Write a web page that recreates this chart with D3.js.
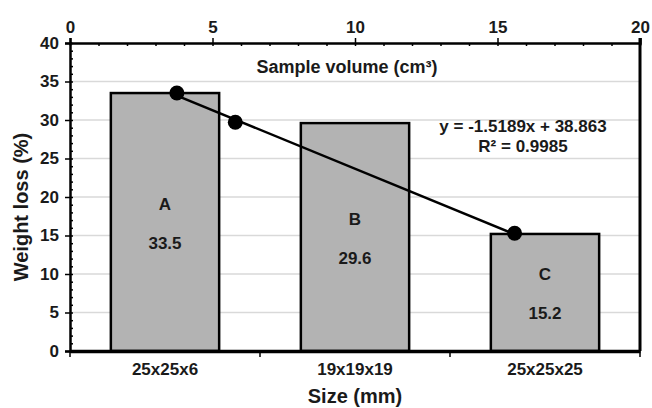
<!DOCTYPE html>
<html>
<head>
<meta charset="utf-8">
<script src="https://d3js.org/d3.v7.min.js"></script>
<style>
  body { margin: 0; background: #fff; }
  text { font-family: "Liberation Sans", Arial, sans-serif; font-weight: bold; fill: #1a1a1a; }
</style>
</head>
<body>
<script>
// data
const sizes = ["25x25x6", "19x19x19", "25x25x25"];
const letters = ["A", "B", "C"];
const weightLoss = [33.5, 29.6, 15.2];

// sample volume points (top axis, cm3) and weight loss
const volume = [3.75, 5.8, 15.6];
const volumeLoss = [33.5, 29.7, 15.3];

// trendline y = a*x + b
const slope = -1.5189, intercept = 38.863, r2 = 0.9985;

const yTicks = [0, 5, 10, 15, 20, 25, 30, 35, 40];
const topTicks = [0, 5, 10, 15, 20];

const width = 652, height = 408;
const margin = {top: 43, right: 12, bottom: 57, left: 70};
const x0 = margin.left, x1 = width - margin.right;
const y0 = height - margin.bottom, y1 = margin.top;

const svg = d3.select("body").append("svg")
  .attr("width", width).attr("height", height);

const y = d3.scaleLinear().domain([0, 40]).range([y0, y1]);
const xTop = d3.scaleLinear().domain([0, 20]).range([x0, x1]);
const xBand = d3.scaleBand().domain(sizes).range([x0, x1])
  .paddingInner(0.43).paddingOuter(0.215);

// gridlines
svg.append("g").selectAll("line")
  .data(yTicks.filter(d => d > 0 && d < 40))
  .enter().append("line")
  .attr("x1", x0).attr("x2", x1)
  .attr("y1", d => y(d)).attr("y2", d => y(d))
  .attr("stroke", "#d9d9d9").attr("stroke-width", 1.5);

// bars
svg.append("g").selectAll("rect")
  .data(sizes)
  .enter().append("rect")
  .attr("x", d => xBand(d))
  .attr("y", (d, i) => y(weightLoss[i]))
  .attr("width", xBand.bandwidth())
  .attr("height", (d, i) => y0 - y(weightLoss[i]))
  .attr("fill", "#b3b3b3")
  .attr("stroke", "#000").attr("stroke-width", 2.5);

// left axis, major out, minor in
const leftAxis = svg.append("g").attr("transform", `translate(${x0},0)`)
  .call(d3.axisLeft(y).tickValues(yTicks).tickSize(5).tickPadding(6));
leftAxis.select(".domain").attr("stroke-width", 2.5);
leftAxis.selectAll(".tick line").attr("stroke-width", 1.5);
leftAxis.selectAll("text").style("font-size", "17px");

const leftMinor = svg.append("g").attr("transform", `translate(${x0},0)`)
  .call(d3.axisRight(y).tickValues(d3.range(0, 41, 1)).tickSize(3).tickFormat(""));
leftMinor.select(".domain").remove();
leftMinor.selectAll(".tick line").attr("stroke-width", 1.5);

// top axis
const topAxis = svg.append("g").attr("transform", `translate(0,${y1})`)
  .call(d3.axisTop(xTop).tickValues(topTicks).tickSize(5).tickPadding(5));
topAxis.select(".domain").attr("stroke-width", 2.5);
topAxis.selectAll(".tick line").attr("stroke-width", 1.5);
topAxis.selectAll("text").style("font-size", "17px");

const topMinor = svg.append("g").attr("transform", `translate(0,${y1})`)
  .call(d3.axisBottom(xTop).tickValues(d3.range(0, 21, 1)).tickSize(3).tickFormat(""));
topMinor.select(".domain").remove();
topMinor.selectAll(".tick line").attr("stroke-width", 1.5);

// bottom category axis
const bottomAxis = svg.append("g").attr("transform", `translate(0,${y0})`)
  .call(d3.axisBottom(xBand).tickSize(0).tickPadding(12));
bottomAxis.select(".domain").attr("stroke-width", 3.5);
bottomAxis.selectAll("text").style("font-size", "17px");

const edges = sizes.map(d => xBand(d) - xBand.step() * xBand.paddingInner() / 2)
  .concat([x1]);
svg.append("g").selectAll("line")
  .data(edges)
  .enter().append("line")
  .attr("x1", d => d).attr("x2", d => d)
  .attr("y1", y0).attr("y2", y0 + 6)
  .attr("stroke", "#000").attr("stroke-width", 1.5);

// right border
svg.append("line")
  .attr("x1", x1).attr("x2", x1)
  .attr("y1", y1 - 5).attr("y2", y0)
  .attr("stroke", "#000").attr("stroke-width", 3);

// trendline and points
svg.append("line")
  .attr("x1", xTop(volume[0])).attr("y1", y(slope * volume[0] + intercept))
  .attr("x2", xTop(volume[2])).attr("y2", y(slope * volume[2] + intercept))
  .attr("stroke", "#000").attr("stroke-width", 2.5);

svg.append("g").selectAll("circle")
  .data(volume)
  .enter().append("circle")
  .attr("cx", d => xTop(d))
  .attr("cy", (d, i) => y(volumeLoss[i]))
  .attr("r", 7.5)
  .attr("fill", "#000");

// bar labels
const labels = svg.append("g");
sizes.forEach((s, i) => {
  const cx = xBand(s) + xBand.bandwidth() / 2;
  const mid = (y(weightLoss[i]) + y0) / 2;
  labels.append("text").attr("x", cx).attr("y", mid - 12)
    .attr("text-anchor", "middle").style("font-size", "17px").text(letters[i]);
  labels.append("text").attr("x", cx).attr("y", mid + 27)
    .attr("text-anchor", "middle").style("font-size", "17px").text(weightLoss[i].toFixed(1));
});

// equation
svg.append("text").attr("x", 523).attr("y", 132)
  .attr("text-anchor", "middle").style("font-size", "17px")
  .text(`y = ${slope}x + ${intercept}`);
svg.append("text").attr("x", 523).attr("y", 152)
  .attr("text-anchor", "middle").style("font-size", "17px")
  .text(`R² = ${r2}`);

// titles
svg.append("text").attr("x", 347).attr("y", 73)
  .attr("text-anchor", "middle").style("font-size", "18px")
  .text("Sample volume (cm³)");
svg.append("text").attr("x", 355).attr("y", 403)
  .attr("text-anchor", "middle").style("font-size", "20px")
  .text("Size (mm)");
svg.append("text")
  .attr("transform", "translate(28,207) rotate(-90)")
  .attr("text-anchor", "middle").style("font-size", "20px")
  .text("Weight loss (%)");
</script>
</body>
</html>
